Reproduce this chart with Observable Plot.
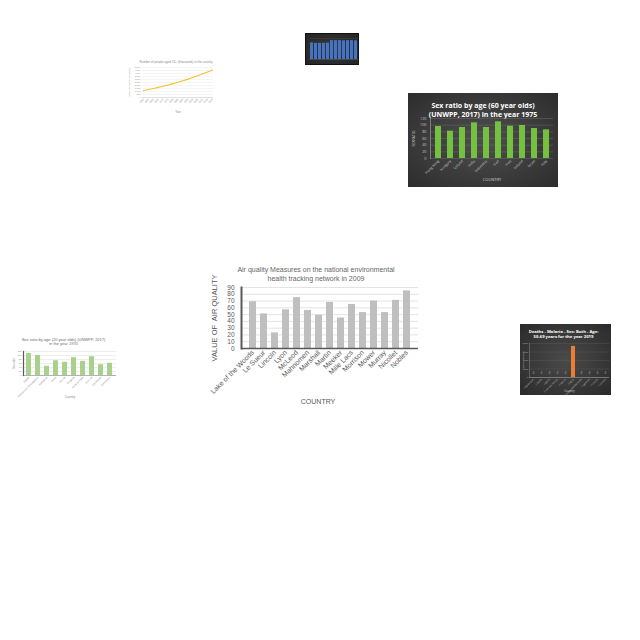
<!DOCTYPE html>
<html><head><meta charset="utf-8">
<script src="https://cdn.jsdelivr.net/npm/d3@7"></script>
<script src="https://cdn.jsdelivr.net/npm/@observablehq/plot@0.6"></script>
<style>
body{margin:0;background:#fff;}
#page{position:relative;width:640px;height:640px;overflow:hidden;background:#fff;}
.abs{position:absolute;}
.abs svg{display:block;overflow:visible;}
.ttl{position:absolute;text-align:center;white-space:nowrap;}
</style></head><body><div id="page"></div>
<script>
// ---------- main chart data ----------
const countries = ["Lake of the Woods","Le Sueur","Lincoln","Lyon","McLeod","Mahnomen","Marshall","Martin","Meeker","Mille Lacs","Morrison","Mower","Murray","Nicollet","Nobles"];
const airQuality = [69,51,23,57,75,56,49,68,45,65,53,70,53,71,85];
const airTicks = [0,10,20,30,40,50,60,70,80,90];
const mainTitle = ["Air quality Measures on the national environmental","health tracking network in 2009"];
const mainXLabel = "COUNTRY";
const mainYLabel = "VALUE OF  AIR QUALITY";

// ---------- thumbnail: sex ratio 60 year olds, 1975 ----------
const sr60Countries = ["Hong Kong","Hungary","Iceland","India","Indonesia","Iran","Iraq","Ireland","Israel","Italy"];
const sr60Values = [96,82,93,107,93,110,97,99,90,86];
const sr60Ticks = [0,20,40,60,80,100,120];
const sr60Title = ["Sex ratio by age (60 year olds)","(UNWPP, 2017) in the year 1975"];

// ---------- thumbnail: sex ratio 20 year olds, 1970 ----------
const sr20Countries = ["Bolivia","Bosnia and Herzegovina","Botswana","Brazil","Brunei","Bulgaria","Burkina Faso","Burundi","Cambodia","Cameroon"];
const sr20Values = [110,100,46,74,66,89,71,94,54,61];
const sr20Ticks = [0,20,40,60,80,100,120];
const sr20Title = ["Sex ratio by age (20 year olds) (UNWPP, 2017)","in the year 1970"];

// ---------- thumbnail: malaria deaths ----------
const malCountries = ["Afghanistan","Albania","Algeria","American Samoa","Andorra","Angola","Antigua and Barbuda","Argentina","Armenia","Australia"];
const malValues = [0,0,0,0,0,1830,0,0,0,0];
const malTicks = [0,500,1000,1500,2000];
const malTitle = ["Deaths - Malaria - Sex: Both - Age:","50-69 years for the year 2019"];

// ---------- thumbnail: line chart ----------
const lineYears = [1950,1955,1960,1965,1970,1975,1980,1985,1990,1995,2000,2005,2010,2015,2020];
const lineValues = [1170,1330,1500,1690,1880,2090,2310,2550,2800,3060,3340,3640,3950,4260,4600];
const lineTicks = [0,500,1000,1500,2000,2500,3000,3500,4000,4500,5000];
const lineTitle = ["Number of people aged 70+ (thousands) in the country"];

// ---------- thumbnail: blue bars ----------
const blueCats = ["A","B","C","D","E","F","G","H","I","J","K","L"];
const blueValues = [79,77,77,77,78,90,90,90,89,90,90,89];

const page = document.getElementById("page");
function box(left, top, w, h, css) {
  const d = document.createElement("div");
  d.className = "abs";
  d.style.left = left + "px"; d.style.top = top + "px";
  if (w != null) d.style.width = w + "px";
  if (h != null) d.style.height = h + "px";
  Object.assign(d.style, css || {});
  page.appendChild(d);
  return d;
}
function title(lines, left, top, w, css) {
  const d = document.createElement("div");
  d.className = "ttl";
  d.style.left = left + "px"; d.style.top = top + "px"; d.style.width = w + "px";
  Object.assign(d.style, css);
  lines.forEach(t => { const s = document.createElement("div"); s.textContent = t; d.appendChild(s); });
  page.appendChild(d);
}
function place(left, top, svg) { box(left, top).appendChild(svg); }

// ================= thumbnails backgrounds =================
box(305, 33, 54, 32, {background: "radial-gradient(ellipse at center, #3a3a3a 0%, #242424 100%)", border: "1px solid #111", boxSizing: "border-box"});
box(408, 93, 150, 94, {background: "radial-gradient(ellipse at center, #4f4f4f 0%, #2c2c2c 100%)"});
box(520, 324, 91, 71, {background: "radial-gradient(ellipse at center, #4a4a4a 0%, #2a2a2a 100%)"});

// ================= main chart =================
const mainRows = countries.map((c, i) => ({country: c, value: airQuality[i]}));
title(mainTitle, 200, 265, 232, {font: "7px 'Liberation Sans', Arial, sans-serif", lineHeight: "9px", color: "#666666"});
place(200, 282, Plot.plot({
  width: 225, height: 130,
  marginLeft: 41, marginRight: 7, marginTop: 5, marginBottom: 64,
  style: {fontFamily: "'Liberation Sans', Arial, sans-serif", color: "#595959", background: "transparent", overflow: "visible"},
  x: {domain: countries, paddingInner: 0.4, paddingOuter: 0.25, label: null},
  y: {domain: [0, 90], label: null},
  marks: [
    Plot.gridY(airTicks, {stroke: "#e3e3e3", strokeOpacity: 1}),
    Plot.barY(mainRows, {x: "country", y: "value", fill: "#bfbfbf"}),
    Plot.ruleY([0], {stroke: "#595959", strokeWidth: 1.5}),
    Plot.frame({anchor: "left", stroke: "#595959", strokeWidth: 2}),
    Plot.axisY(airTicks, {tickSize: 0, tickPadding: 7, fontSize: 6.5, fill: "#595959", label: null}),
    Plot.axisX({tickSize: 0, tickPadding: 3, tickRotate: -45, fontSize: 7, fill: "#595959", label: null}),
    Plot.text([mainXLabel], {frameAnchor: "bottom", dy: 55, dx: -12, fontSize: 7, fill: "#595959"}),
    Plot.text([mainYLabel], {frameAnchor: "left", textAnchor: "middle", rotate: -90, dx: -27, fontSize: 7.5, fill: "#595959"})
  ]
}));

// ================= sex ratio 60 (dark, green) =================
const sr60Rows = sr60Countries.map((c, i) => ({country: c, value: sr60Values[i]}));
title(sr60Title, 408, 101, 150, {font: "bold 7px 'Open Sans', sans-serif", lineHeight: "9px", color: "#ffffff"});
place(408, 113, Plot.plot({
  width: 150, height: 72,
  marginLeft: 22, marginRight: 5, marginTop: 5, marginBottom: 27,
  style: {fontFamily: "'Open Sans', sans-serif", color: "#bfbfbf", background: "transparent", overflow: "visible"},
  x: {domain: sr60Countries, paddingInner: 0.5, paddingOuter: 0.13, label: null},
  y: {domain: [0, 120], label: null},
  marks: [
    Plot.gridY(sr60Ticks, {stroke: "#6a6a6a", strokeOpacity: 1, strokeWidth: 0.5}),
    Plot.barY(sr60Rows, {x: "country", y: "value", fill: "#74c13f"}),
    Plot.frame({anchor: "left", stroke: "#9a9a9a", strokeWidth: 0.7}),
    Plot.axisY(sr60Ticks, {tickSize: 0, tickPadding: 4, fontSize: 3.8, fill: "#c8c8c8", label: null}),
    Plot.axisX({tickSize: 0, tickPadding: 2, tickRotate: -45, fontSize: 3.5, fill: "#c8c8c8", label: null}),
    Plot.text(["COUNTRY"], {frameAnchor: "bottom", dy: 22, fontSize: 4, fill: "#d0d0d0"}),
    Plot.text(["SEXRATIO"], {frameAnchor: "left", textAnchor: "middle", rotate: -90, dx: -17, fontSize: 3.5, fill: "#d0d0d0"})
  ]
}));

// ================= malaria (dark, orange) =================
const malRows = malCountries.map((c, i) => ({country: c, value: malValues[i]}));
title(malTitle, 518, 330, 91, {font: "bold 4.2px 'Open Sans', sans-serif", lineHeight: "4.7px", color: "#ffffff"});
place(520, 340, Plot.plot({
  width: 91, height: 55,
  marginLeft: 9, marginRight: 2, marginTop: 3, marginBottom: 18,
  style: {fontFamily: "'Open Sans', sans-serif", color: "#bfbfbf", background: "transparent", overflow: "visible"},
  x: {domain: malCountries, paddingInner: 0.45, paddingOuter: 0.1, label: null},
  y: {domain: [0, 2000], label: null},
  marks: [
    Plot.gridY(malTicks, {stroke: "#5e5e5e", strokeOpacity: 1, strokeWidth: 0.4}),
    Plot.barY(malRows, {x: "country", y: "value", fill: "#ed7d31"}),
    Plot.ruleY([0], {stroke: "#9a9a9a", strokeWidth: 0.6}),
    Plot.frame({anchor: "left", stroke: "#8a8a8a", strokeWidth: 0.5}),
    Plot.text(malRows.filter(d => d.value === 0), {x: "country", y: "value", text: d => String(d.value), dy: -4, fontSize: 2.6, fill: "#c0c0c0"}),
    Plot.axisY(malTicks, {tickSize: 0, tickPadding: 1.5, fontSize: 2.3, fill: "#aaaaaa", label: null}),
    Plot.axisX({tickSize: 0, tickPadding: 1.5, tickRotate: -45, fontSize: 2.4, fill: "#bbbbbb", label: null}),
    Plot.text(["Country"], {frameAnchor: "bottom", dy: 14, fontSize: 2.8, fill: "#cfcfcf"}),
    Plot.text(["Deaths (number)"], {frameAnchor: "left", textAnchor: "middle", rotate: -90, dx: -6, fontSize: 2.4, fill: "#bbbbbb"})
  ]
}));

// ================= sex ratio 20 (light green) =================
const sr20Rows = sr20Countries.map((c, i) => ({country: c, value: sr20Values[i]}));
title(sr20Title, 10, 337.5, 107, {font: "4px 'Liberation Sans', Arial, sans-serif", lineHeight: "4.7px", color: "#6b6b6b"});
place(10, 348, Plot.plot({
  width: 110, height: 52,
  marginLeft: 13, marginRight: 4, marginTop: 3, marginBottom: 25,
  style: {fontFamily: "'Liberation Sans', Arial, sans-serif", color: "#777", background: "transparent", overflow: "visible"},
  x: {domain: sr20Countries, paddingInner: 0.4, paddingOuter: 0.2, label: null},
  y: {domain: [0, 120], label: null},
  marks: [
    Plot.gridY(sr20Ticks, {stroke: "#e2e2e2", strokeOpacity: 1, strokeWidth: 0.6}),
    Plot.barY(sr20Rows, {x: "country", y: "value", fill: "#a9d18e"}),
    Plot.ruleY([0], {stroke: "#8a8a8a", strokeWidth: 0.6}),
    Plot.frame({anchor: "left", stroke: "#595959", strokeWidth: 1.2}),
    Plot.axisY(sr20Ticks, {tickSize: 0, tickPadding: 2, fontSize: 2.4, fill: "#8a8a8a", label: null}),
    Plot.axisX({tickSize: 0, tickPadding: 1.5, tickRotate: -45, fontSize: 2.6, fill: "#8a8a8a", label: null}),
    Plot.text(["Country"], {frameAnchor: "bottom", dy: 22, fontSize: 3, fill: "#8a8a8a"}),
    Plot.text(["Sex ratio"], {frameAnchor: "left", textAnchor: "middle", rotate: -90, dx: -9, fontSize: 2.6, fill: "#8a8a8a"})
  ]
}));

// ================= line chart =================
const lineRows = lineYears.map((y, i) => ({year: y, value: lineValues[i]}));
title(lineTitle, 125, 60, 102, {font: "3px 'Liberation Sans', Arial, sans-serif", lineHeight: "4px", color: "#8a8a8a"});
place(125, 64, Plot.plot({
  width: 95, height: 52,
  marginLeft: 17, marginRight: 7, marginTop: 3, marginBottom: 19,
  style: {fontFamily: "'Liberation Sans', Arial, sans-serif", color: "#888", background: "transparent", overflow: "visible"},
  x: {domain: [1950, 2020], inset: 1, label: null},
  y: {domain: [0, 5000], label: null},
  marks: [
    Plot.gridY(lineTicks, {stroke: "#e6e6e6", strokeOpacity: 1, strokeWidth: 0.4}),
    Plot.ruleY([0], {stroke: "#cccccc", strokeWidth: 0.5}),
    Plot.line(lineRows, {x: "year", y: "value", stroke: "#f2c230", strokeWidth: 1.1, curve: "monotone-x"}),
    Plot.axisY(lineTicks, {tickSize: 0, tickPadding: 2, fontSize: 2.2, fill: "#8a8a8a", label: null}),
    Plot.axisX(lineYears, {tickSize: 0, tickPadding: 1.5, tickRotate: -45, fontSize: 2.4, fill: "#8a8a8a", tickFormat: d => String(d), label: null}),
    Plot.text(["Year"], {frameAnchor: "bottom", dy: 15, fontSize: 2.8, fill: "#8a8a8a"}),
    Plot.text(["Number of people (thousands)"], {frameAnchor: "left", textAnchor: "middle", rotate: -90, dx: -13, fontSize: 2.2, fill: "#8a8a8a"})
  ]
}));

// ================= blue bars (dark) =================
const blueRows = blueCats.map((c, i) => ({cat: c, value: blueValues[i]}));
place(305, 33, Plot.plot({
  width: 54, height: 32,
  marginLeft: 4, marginRight: 1, marginTop: 5, marginBottom: 6,
  style: {background: "transparent", overflow: "visible"},
  x: {domain: blueCats, paddingInner: 0.28, paddingOuter: 0.1, axis: null},
  y: {domain: [0, 100], axis: null},
  marks: [
    Plot.gridY([25, 50, 75, 100], {stroke: "#4a4a4a", strokeOpacity: 1, strokeWidth: 0.4}),
    Plot.barY(blueRows, {x: "cat", y: "value", fill: "#4472c4"}),
    Plot.ruleY([0], {stroke: "#777", strokeWidth: 0.4})
  ]
}));
</script>
</body></html>
